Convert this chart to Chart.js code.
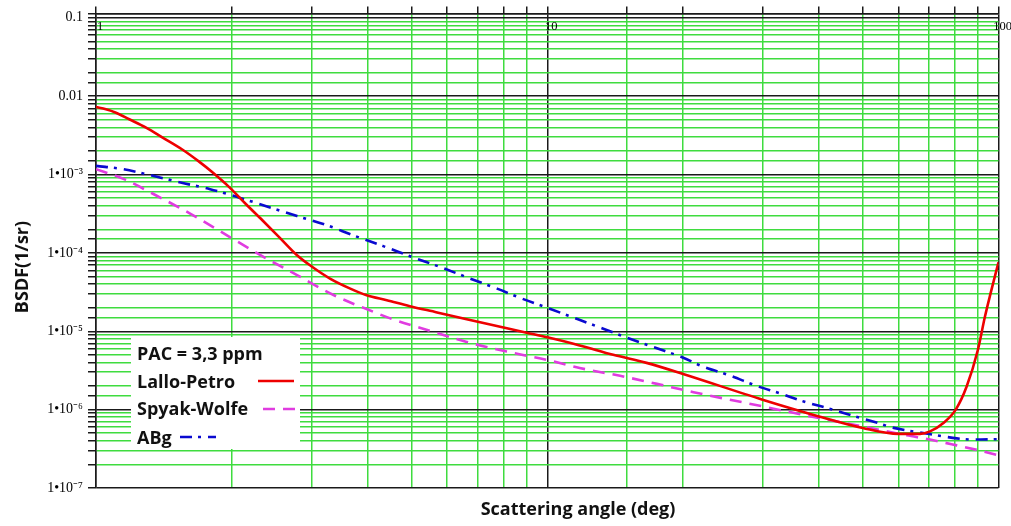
<!DOCTYPE html>
<html><head><meta charset="utf-8">
<script src="https://cdn.jsdelivr.net/npm/chart.js@4"></script>
<style>html,body{margin:0;padding:0;background:#fff}#wrap{width:1011px;height:526px;position:relative}</style>
</head><body><div id="wrap"><canvas id="c"></canvas></div>
<script>
// ---- data ----
const lpX = [1, 1.052, 1.107, 1.185, 1.291, 1.405, 1.556, 1.695, 1.814, 1.976, 2.148, 2.34, 2.549, 2.77, 2.98, 3.3, 3.66, 3.98, 4.41, 4.96, 5.7, 6.63, 9.0, 10, 11.8, 14, 16.6, 20, 30, 40, 50, 60, 67, 70.5, 75.5, 80.4, 85, 90, 93.3, 96, 100];
const lpY = [7.26e-3, 6.8e-3, 6.15e-3, 5.07e-3, 3.96e-3, 2.96e-3, 2.07e-3, 1.45e-3, 1.06e-3, 6.86e-4, 4.21e-4, 2.59e-4, 1.58e-4, 9.7e-5, 6.94e-5, 4.7e-5, 3.5e-5, 2.88e-5, 2.49e-5, 2.09e-5, 1.74e-5, 1.42e-5, 9.57e-6, 8.36e-6, 6.6e-6, 5.0e-6, 3.95e-6, 2.85e-6, 1.34e-6, 8.2e-7, 5.84e-7, 4.9e-7, 4.9e-7, 5.28e-7, 6.76e-7, 1.0e-6, 1.97e-6, 5.77e-6, 1.53e-5, 3.02e-5, 7.6e-5];
const swX = [1, 1.15, 1.36, 1.62, 1.98, 2.35, 2.79, 3.36, 4.12, 4.49, 5.5, 6.63, 8.13, 10, 11.8, 14.5, 17.5, 21.1, 30, 40, 50, 62.6, 70.5, 80.8, 90.9, 100];
const swY = [1.17e-3, 8.8e-4, 5.4e-4, 3.15e-4, 1.59e-4, 8.9e-5, 5.2e-5, 2.9e-5, 1.77e-5, 1.46e-5, 1.01e-5, 7.3e-6, 5.5e-6, 4.3e-6, 3.4e-6, 2.7e-6, 2.13e-6, 1.67e-6, 1.1e-6, 7.8e-7, 6.1e-7, 4.7e-7, 4.15e-7, 3.5e-7, 3.0e-7, 2.6e-7];
const abX = [1, 1.15, 1.33, 1.54, 1.79, 2.07, 2.43, 2.79, 3.25, 3.72, 4.33, 5.06, 5.79, 6.75, 7.74, 8.85, 10.2, 11.7, 13.4, 15.3, 17.5, 19.9, 22.3, 25.2, 29.1, 32.7, 37, 42.4, 47.4, 53.4, 58.6, 67, 75.5, 80.8, 88, 100];
const abY = [1.29e-3, 1.17e-3, 9.7e-4, 7.9e-4, 6.5e-4, 5.1e-4, 3.8e-4, 2.95e-4, 2.25e-4, 1.67e-4, 1.22e-4, 8.7e-5, 6.6e-5, 4.7e-5, 3.5e-5, 2.57e-5, 1.91e-5, 1.42e-5, 1.06e-5, 7.95e-6, 6.06e-6, 4.66e-6, 3.48e-6, 2.77e-6, 2.01e-6, 1.62e-6, 1.27e-6, 1.02e-6, 8.4e-7, 6.9e-7, 5.85e-7, 5.1e-7, 4.55e-7, 4.3e-7, 4.15e-7, 4.2e-7];

const seriesLabels = ['Lallo-Petro', 'Spyak-Wolfe', 'ABg'];
const legendTitle = 'PAC = 3,3 ppm';
const xTickValues = [1, 10, 100];
const xTickLabels = ['1', '10', '100'];
const yTickValues = [0.1, 0.01, 1e-3, 1e-4, 1e-5, 1e-6, 1e-7];
const yTickLabels = ['0.1', '0.01', '1\u202210\u207B\u00B3', '1\u202210\u207B\u2074', '1\u202210\u207B\u2075', '1\u202210\u207B\u2076', '1\u202210\u207B\u2077'];
const xTitle = 'Scattering angle (deg)';
const yTitle = 'BSDF(1/sr)';

// ---- helpers ----
const zip = (xs, ys) => xs.map((x, i) => ({x: x, y: ys[i]}));
const isDecade = v => Math.abs(Math.log10(v) - Math.round(Math.log10(v))) < 1e-6;
function labelFor(vals, labels, v) {
  for (let i = 0; i < vals.length; i++) {
    if (Math.abs(Math.log10(v) - Math.log10(vals[i])) < 1e-6) return labels[i];
  }
  return '';
}
const GREEN = '#3fdc3f';
const BLACK = '#1a1a1a';

const titlesPlugin = {
  id: 'titles',
  afterDraw(chart) {
    const ctx = chart.ctx;
    ctx.save();
    ctx.fillStyle = '#111';
    ctx.font = 'bold 18px "Open Sans"';
    ctx.textAlign = 'center';
    ctx.textBaseline = 'alphabetic';
    ctx.fillText(xTitle, 578, 515);
    ctx.translate(28, 267);
    ctx.rotate(-Math.PI / 2);
    ctx.fillText(yTitle, 0, 0);
    ctx.restore();
  }
};

const legendPlugin = {
  id: 'boxLegend',
  afterDatasetsDraw(chart) {
    const ctx = chart.ctx;
    ctx.save();
    ctx.fillStyle = '#fff';
    ctx.fillRect(131, 337, 169, 112);
    ctx.fillStyle = '#111';
    ctx.font = 'bold 18px "Open Sans"';
    ctx.textAlign = 'left';
    ctx.textBaseline = 'alphabetic';
    ctx.fillText(legendTitle, 137, 359.5);
    const rowsBase = [387.5, 414.5, 444];
    const rowsMid = [381, 409, 437];
    const sampleX = [258, 263, 180];
    chart.data.datasets.forEach((ds, i) => {
      ctx.fillStyle = '#111';
      ctx.fillText(ds.label, 137, rowsBase[i]);
      ctx.beginPath();
      ctx.strokeStyle = ds.borderColor;
      ctx.lineWidth = ds.borderWidth;
      ctx.setLineDash(ds.borderDash || []);
      ctx.moveTo(sampleX[i], rowsMid[i]);
      ctx.lineTo(sampleX[i] + 36, rowsMid[i]);
      ctx.stroke();
    });
    ctx.restore();
  }
};

new Chart(document.getElementById('c'), {
  type: 'line',
  data: {
    datasets: [
      {label: seriesLabels[0], data: zip(lpX, lpY), borderColor: '#ee0000', borderWidth: 2.6, borderDash: []},
      {label: seriesLabels[1], data: zip(swX, swY), borderColor: '#e03ce0', borderWidth: 2.6, borderDash: [12, 8]},
      {label: seriesLabels[2], data: zip(abX, abY), borderColor: '#0a0ad0', borderWidth: 2.6, borderDash: [12, 6, 3, 7]}
    ]
  },
  options: {
    responsive: true,
    maintainAspectRatio: false,
    animation: false,
    layout: {padding: {top: 5, left: 0, right: 12.5, bottom: 38}},
    elements: {point: {radius: 0}, line: {cubicInterpolationMode: 'monotone', fill: false}},
    plugins: {legend: {display: false}, tooltip: {enabled: false}},
    scales: {
      x: {
        type: 'logarithmic',
        position: 'top',
        min: 1, max: 100,
        afterFit: s => { s.height = 7; s.paddingLeft = 0; s.paddingRight = 0; },
        border: {display: true, color: BLACK, width: 1.5},
        grid: {
          color: c => isDecade(c.tick.value) ? BLACK : GREEN,
          lineWidth: 1.5,
          tickColor: BLACK, tickWidth: 1.5, tickLength: 7, drawTicks: true
        },
        ticks: {
          autoSkip: false, maxRotation: 0, mirror: true, padding: 6, labelOffset: 4,
          color: '#000', font: {family: '"Liberation Serif"', size: 12.5},
          callback: v => labelFor(xTickValues, xTickLabels, v)
        }
      },
      y: {
        type: 'logarithmic',
        min: 1e-7, max: 0.1137,
        afterFit: s => { s.width = 96; },
        border: {display: true, color: BLACK, width: 1.5},
        grid: {
          color: c => (isDecade(c.tick.value) || c.tick.value > 0.1001) ? BLACK : GREEN,
          lineWidth: 1.5,
          tickColor: BLACK, tickWidth: 1.5, tickLength: 8, drawTicks: true
        },
        ticks: {
          autoSkip: false, padding: 5,
          color: '#000', font: {family: '"Liberation Serif"', size: 14},
          callback: v => labelFor(yTickValues, yTickLabels, v)
        }
      }
    }
  },
  plugins: [legendPlugin, titlesPlugin]
});
</script>
</body></html>
